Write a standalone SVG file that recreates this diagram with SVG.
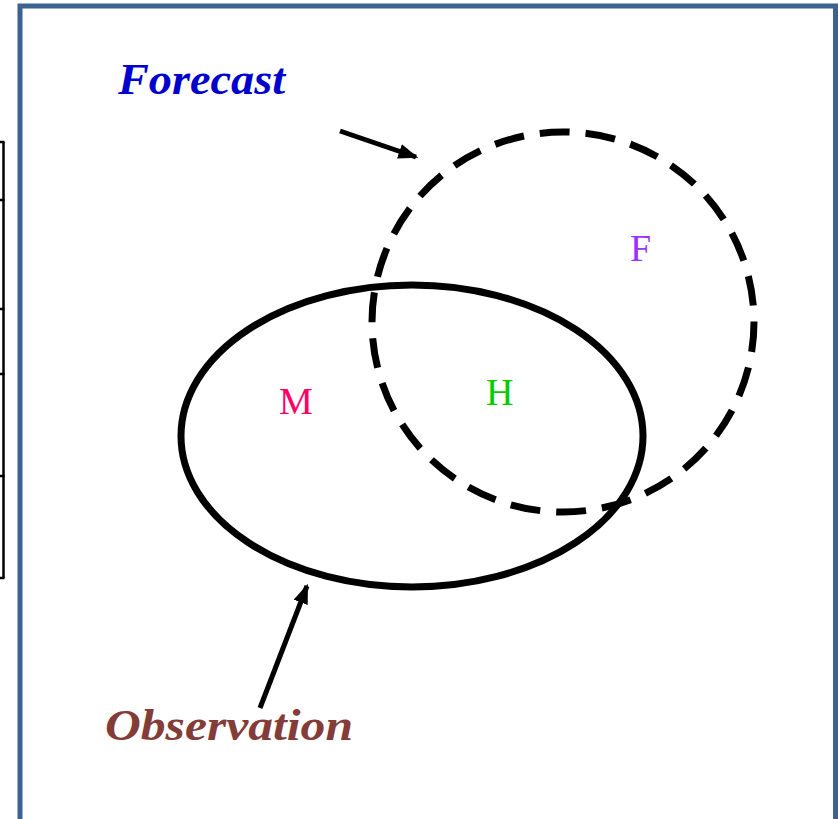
<svg xmlns="http://www.w3.org/2000/svg" width="838" height="819" viewBox="0 0 838 819">
<style>
.lbl{font-family:"Liberation Serif","DejaVu Serif",serif;font-style:italic;font-weight:bold;font-size:44px}
.reg{font-family:"Liberation Serif","DejaVu Serif",serif;font-size:38px}
.ln{stroke:#000;stroke-width:5;fill:none}
</style>
<defs>
<marker id="ah" markerWidth="4" markerHeight="3" refX="3.5" refY="1.5" orient="auto" markerUnits="strokeWidth">
<path d="M0,0 L4,1.5 L0,3 z" fill="#000"/>
</marker>
</defs>
<rect width="838" height="819" fill="#fff"/>
<g id="frame">
<path d="M20,830 L20,6 L835.5,6 L835.5,830" fill="none" stroke="#3D6190" stroke-width="5"/>
</g>
<g id="table" stroke="#000" stroke-width="2.5" fill="none">
<line x1="3.5" y1="142" x2="3.5" y2="578"/>
<line x1="0" y1="142" x2="4.5" y2="142"/>
<line x1="0" y1="200" x2="4.5" y2="200"/>
<line x1="0" y1="309" x2="4.5" y2="309"/>
<line x1="0" y1="374" x2="4.5" y2="374"/>
<line x1="0" y1="476" x2="4.5" y2="476"/>
<line x1="0" y1="578" x2="4.5" y2="578"/>
</g>
<g id="observation-ellipse">
<ellipse cx="412" cy="436" rx="231" ry="151" fill="none" stroke="#000" stroke-width="7"/>
</g>
<g id="forecast-circle">
<ellipse cx="563" cy="322" rx="191" ry="190" fill="none" stroke="#000" stroke-width="7" stroke-dasharray="30,16"/>
</g>
<g id="connectors">
<line class="ln" x1="340" y1="131" x2="416" y2="157" marker-end="url(#ah)"/>
<line class="ln" x1="260" y1="708" x2="307" y2="586" marker-end="url(#ah)"/>
</g>
<g id="forecast-label"><text class="lbl" x="118" y="94" fill="#0000CC" textLength="167" lengthAdjust="spacingAndGlyphs">Forecast</text></g>
<g id="observation-label"><text class="lbl" x="105" y="740" fill="#833C38" textLength="248" lengthAdjust="spacingAndGlyphs">Observation</text></g>
<g id="M"><text class="reg" x="279" y="414" fill="#FF0066">M</text></g>
<g id="H"><text class="reg" x="486" y="405" fill="#00CC00">H</text></g>
<g id="F"><text class="reg" x="630" y="261" fill="#9933FF">F</text></g>
</svg>
